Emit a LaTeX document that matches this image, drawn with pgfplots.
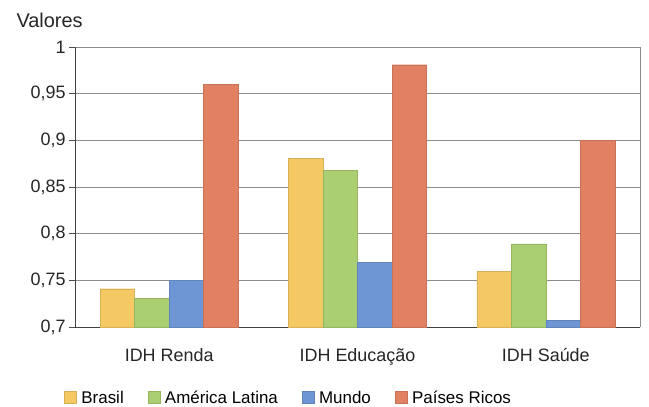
\documentclass[border=0pt]{standalone}
\usepackage{pgfplots}
\pgfplotsset{compat=1.18}
\usepackage{fontspec}
\setmainfont{Liberation Sans}
\definecolor{cBr}{HTML}{F4C964}
\definecolor{cAL}{HTML}{AACF72}
\definecolor{cMu}{HTML}{6E96D5}
\definecolor{cPR}{HTML}{E28062}
\begin{document}
\begin{tikzpicture}
\path[use as bounding box] (-75bp,-80bp) rectangle (574bp,327bp);
\begin{axis}[
  at={(0,0)}, anchor=south west,
  scale only axis, width=565bp, height=280bp,
  ybar=0pt, bar width=34.5bp,
  xmin=-0.5, xmax=2.5, ymin=0.7, ymax=1,
  xtick={0,1,2},
  xticklabels={IDH Renda, IDH Educação, IDH Saúde},
  x tick style={draw=none},
  extra x ticks={-0.5,0.5,1.5,2.5},
  extra x tick labels={},
  extra x tick style={grid=none, major tick length=6bp, tick style={draw=black!70, thick}, tick pos=bottom, xtick align=outside},
  ytick={0.7,0.75,0.8,0.85,0.9,0.95,1},
  y tick style={draw=black!70, thick},
  major tick length=6bp,
  tick align=outside,
  axis x line*=bottom, axis y line*=left,
  axis line style={black!75, thick, -},
  ymajorgrids, grid style={black!45, thick},
  yticklabel style={/pgf/number format/.cd, use comma, fixed, precision=2, assume math mode=true},
  ticklabel style={font=\fontsize{18}{20}\selectfont, text=black!85},
  xticklabel style={yshift=-12bp},
  legend style={at={(0.378,-0.254)}, anchor=center, draw=none, fill=none,
    legend columns=4, font=\fontsize{17}{19}\selectfont,
    /tikz/every even column/.append style={column sep=22bp}},
  legend image code/.code={\fill[#1] (0cm,-5.5bp) rectangle (12bp,7bp); \path[draw=none,fill=none] (0,0) -- (15bp,0);},
  clip=false,
]
\addplot[fill=cBr, draw=cBr!88!black] coordinates {(0,0.741) (1,0.881) (2,0.760)};
\addplot[fill=cAL, draw=cAL!88!black] coordinates {(0,0.731) (1,0.868) (2,0.789)};
\addplot[fill=cMu, draw=cMu!88!black] coordinates {(0,0.750) (1,0.769) (2,0.707)};
\addplot[fill=cPR, draw=cPR!88!black] coordinates {(0,0.960) (1,0.981) (2,0.900)};
\legend{Brasil, América Latina, Mundo, Países Ricos}
\draw[black!45, thick] (rel axis cs:1,0) -- (rel axis cs:1,1);
\node[anchor=west, font=\fontsize{20}{22}\selectfont, text=black!85] at ([xshift=-62bp,yshift=27bp]rel axis cs:0,1) {Valores};
\end{axis}
\end{tikzpicture}
\end{document}
